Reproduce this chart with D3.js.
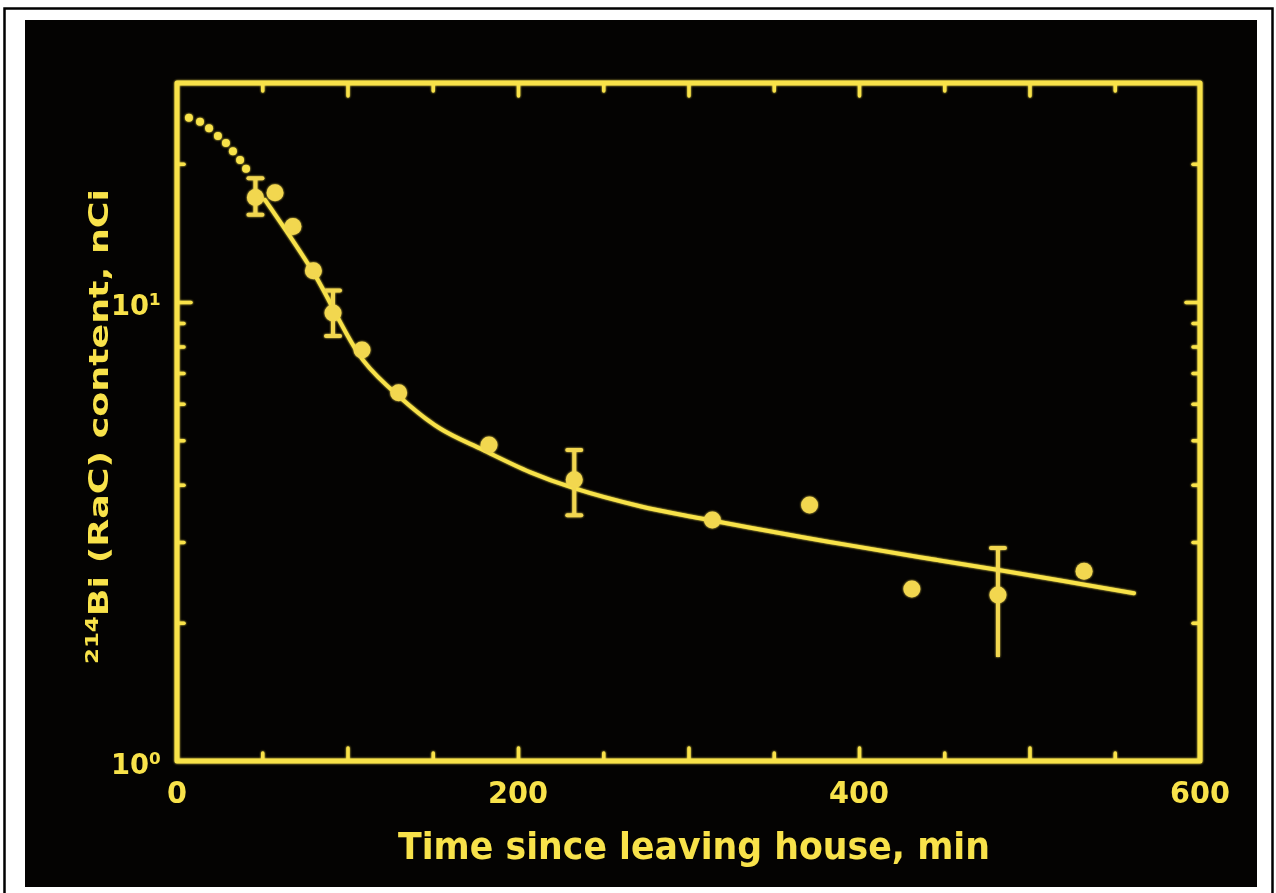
<!DOCTYPE html>
<html>
<head>
<meta charset="utf-8">
<script src="https://cdn.jsdelivr.net/npm/d3@7"></script>
<style>
body { margin: 0; background: #fff; }
svg { display: block; }
</style>
</head>
<body>
<svg id="chart" width="1276" height="893"></svg>
<script>
// measured 214Bi content (nCi) vs minutes since leaving house
const pointTimes = [46, 57.5, 68, 80, 91.5, 108.5, 130, 183, 233, 314, 371, 431, 481.5, 532];
const pointValues = [16.9, 17.3, 14.6, 11.7, 9.46, 7.86, 6.34, 4.88, 4.10, 3.35, 3.61, 2.37, 2.30, 2.59];
// error bars on some of the points
const errIndex = [0, 4, 8, 12];
const errLow = [15.5, 8.43, 3.43, 1.685];
const errHigh = [18.6, 10.6, 4.76, 2.91];
const errBottomCap = [true, true, true, false];
// fitted curve: dotted extrapolation, then solid part
const dotTimes = [7, 13.5, 18.8, 24, 28.7, 32.8, 37, 40.5];
const dotValues = [25.2, 24.7, 23.9, 23.0, 22.2, 21.3, 20.4, 19.5];
const fitTimes = [51.6, 79.8, 109.1, 132.6, 154.3, 179.5, 207, 232.8, 271.6, 306.7, 365.4, 394.7, 435.8, 481, 561.3];
const fitValues = [16.7, 11.63, 7.47, 6.12, 5.30, 4.76, 4.26, 3.93, 3.59, 3.38, 3.08, 2.95, 2.78, 2.61, 2.32];
// ticks
const xTickLabels = [0, 200, 400, 600];
const xMajorTicks = [100, 200, 300, 400, 500];
const xMinorTicks = [50, 150, 250, 350, 450, 550];
const yMajorTicks = [10];
const yMinorTicks = [2, 3, 4, 5, 6, 7, 8, 9, 20];
const yTickValues = [1, 10];
const yTickLabels = ['10⁰', '10¹'];
const xAxisLabel = 'Time since leaving house, min';
const yAxisLabel = ['214', 'Bi (RaC) content, nCi'];

const yellow = '#f8e24a';
const dotYellow = '#f2d750';
const font = '"DejaVu Sans", sans-serif';

const svg = d3.select('#chart');

// page frame and black photo
svg.append('rect').attr('x', 4.5).attr('y', 8.5).attr('width', 1268).attr('height', 892)
    .attr('fill', '#fff').attr('stroke', '#000').attr('stroke-width', 2.5);
svg.append('rect').attr('x', 25).attr('y', 20).attr('width', 1232).attr('height', 867)
    .attr('fill', '#040302');

const defs = svg.append('defs');
const glow = defs.append('filter').attr('id', 'glow')
    .attr('x', '-5%').attr('y', '-5%').attr('width', '110%').attr('height', '110%');
glow.append('feGaussianBlur').attr('in', 'SourceGraphic').attr('stdDeviation', 1.3).attr('result', 'b');
const merge = glow.append('feMerge');
merge.append('feMergeNode').attr('in', 'b');
merge.append('feMergeNode').attr('in', 'SourceGraphic');

const xScale = d3.scaleLinear().domain([0, 600]).range([177, 1200]);
const yScale = d3.scaleLog().domain([1, 30]).range([761, 83]);

const g = svg.append('g').attr('filter', 'url(#glow)');

function tickAxis(axis, ticks, size, transform) {
    const a = g.append('g').attr('transform', transform)
        .call(axis.tickValues(ticks).tickSize(size).tickSizeOuter(0).tickFormat(''));
    a.select('.domain').remove();
    a.selectAll('.tick line').attr('stroke', yellow).attr('stroke-width', 3.5)
        .attr('stroke-linecap', 'round');
}

const x0 = xScale.range()[0], x1 = xScale.range()[1];
const y0 = yScale.range()[0], y1 = yScale.range()[1];

tickAxis(d3.axisBottom(xScale), xMajorTicks, -13, `translate(0,${y0})`);
tickAxis(d3.axisBottom(xScale), xMinorTicks, -8, `translate(0,${y0})`);
tickAxis(d3.axisTop(xScale), xMajorTicks, -13, `translate(0,${y1})`);
tickAxis(d3.axisTop(xScale), xMinorTicks, -8, `translate(0,${y1})`);
tickAxis(d3.axisLeft(yScale), yMajorTicks, -14, `translate(${x0},0)`);
tickAxis(d3.axisLeft(yScale), yMinorTicks, -7, `translate(${x0},0)`);
tickAxis(d3.axisRight(yScale), yMajorTicks, -14, `translate(${x1},0)`);
tickAxis(d3.axisRight(yScale), yMinorTicks, -7, `translate(${x1},0)`);

g.append('rect')
    .attr('x', x0).attr('y', y1)
    .attr('width', x1 - x0).attr('height', y0 - y1)
    .attr('fill', 'none').attr('stroke', yellow).attr('stroke-width', 5)
    .attr('stroke-linejoin', 'round');

// fitted curve
const fitData = fitTimes.map((t, i) => [t, fitValues[i]]);
const line = d3.line()
    .x(d => xScale(d[0]))
    .y(d => yScale(d[1]))
    .curve(d3.curveCatmullRom);
g.append('path').datum(fitData)
    .attr('d', line)
    .attr('fill', 'none').attr('stroke', yellow).attr('stroke-width', 4)
    .attr('stroke-linecap', 'round');

g.selectAll('.fitdot').data(dotTimes.map((t, i) => [t, dotValues[i]]))
    .enter().append('circle')
    .attr('class', 'fitdot')
    .attr('cx', d => xScale(d[0]))
    .attr('cy', d => yScale(d[1]))
    .attr('r', 4)
    .attr('fill', yellow);

// error bars
errIndex.forEach((idx, i) => {
    const cx = xScale(pointTimes[idx]);
    const top = yScale(errHigh[i]), bot = yScale(errLow[i]);
    g.append('line').attr('x1', cx).attr('x2', cx).attr('y1', top).attr('y2', bot)
        .attr('stroke', dotYellow).attr('stroke-width', 4);
    g.append('line').attr('x1', cx - 7).attr('x2', cx + 7).attr('y1', top).attr('y2', top)
        .attr('stroke', dotYellow).attr('stroke-width', 4).attr('stroke-linecap', 'round');
    if (errBottomCap[i]) {
        g.append('line').attr('x1', cx - 7).attr('x2', cx + 7).attr('y1', bot).attr('y2', bot)
            .attr('stroke', dotYellow).attr('stroke-width', 4).attr('stroke-linecap', 'round');
    }
});

// data points
g.selectAll('.pt').data(pointTimes.map((t, i) => [t, pointValues[i]]))
    .enter().append('circle')
    .attr('class', 'pt')
    .attr('cx', d => xScale(d[0]))
    .attr('cy', d => yScale(d[1]))
    .attr('r', 8.5)
    .attr('fill', dotYellow);

// labels
const tg = svg.append('g').attr('fill', yellow).style('font-family', font)
    .style('font-weight', 'bold');

tg.selectAll('.xl').data(xTickLabels).enter().append('text')
    .attr('class', 'xl')
    .attr('x', d => xScale(d))
    .attr('y', y0 + 42)
    .attr('text-anchor', 'middle')
    .style('font-size', '31px')
    .attr('textLength', d => String(d).length * 20)
    .attr('lengthAdjust', 'spacingAndGlyphs')
    .text(d => d);

tg.selectAll('.yl').data(yTickValues).enter().append('text')
    .attr('class', 'yl')
    .attr('x', x0 - 66)
    .attr('y', d => yScale(d) + 13)
    .style('font-size', '29px')
    .attr('textLength', 50)
    .attr('lengthAdjust', 'spacingAndGlyphs')
    .text((d, i) => yTickLabels[i]);

tg.append('text')
    .attr('x', 398)
    .attr('y', 859)
    .style('font-size', '38px')
    .attr('textLength', 592).attr('lengthAdjust', 'spacingAndGlyphs')
    .text(xAxisLabel);

const yl = tg.append('text')
    .attr('transform', 'translate(108,664) rotate(-90)')
    .style('font-size', '27px')
    .attr('textLength', 475).attr('lengthAdjust', 'spacingAndGlyphs');
yl.append('tspan').attr('dy', -10).style('font-size', '17px').text(yAxisLabel[0]);
yl.append('tspan').attr('dy', 10).text(yAxisLabel[1]);
</script>
</body>
</html>
